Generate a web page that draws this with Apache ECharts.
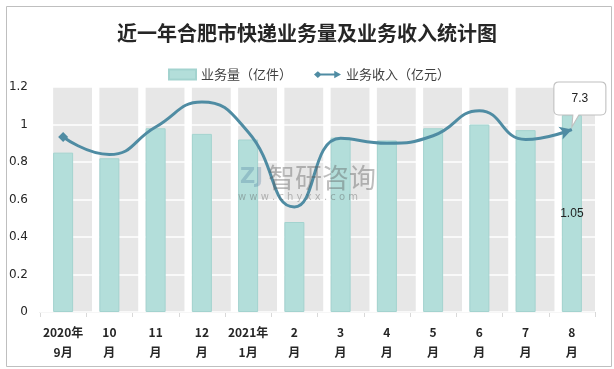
<!DOCTYPE html>
<html><head><meta charset="utf-8">
<script src="https://cdn.jsdelivr.net/npm/echarts@6/dist/echarts.min.js"></script>
<style>html,body{margin:0;padding:0;background:#fff}#c{width:614px;height:369px}</style>
</head><body><div id="c"></div>
<script>
var categories = ['2020年\n9月','10\n月','11\n月','12\n月','2021年\n1月','2\n月','3\n月','4\n月','5\n月','6\n月','7\n月','8\n月'];
var volume = [0.85, 0.82, 0.98, 0.95, 0.92, 0.48, 0.93, 0.915, 0.98, 1.0, 0.97, 1.05];
var revenue = [7.0, 6.3, 7.4, 8.4, 7.2, 4.2, 6.95, 6.75, 7.05, 8.05, 6.9, 7.3];
var yTicks = [0, 0.2, 0.4, 0.6, 0.8, 1.0, 1.2];
var backdrop = categories.map(function(){ return yTicks[yTicks.length-1]; });

var lineData = revenue.map(function(v, i){
  if (i === 0) return {value: v, symbol: 'diamond', symbolSize: 10};
  if (i === revenue.length - 1) return {value: v, symbol: 'arrow', symbolSize: [10, 12], symbolRotate: -72};
  return {value: v, symbol: 'none'};
});
var barData = volume.map(function(v, i){
  if (i === volume.length - 1) return {value: v, label: {show: true, position: 'inside', color: '#222', fontSize: 12, formatter: '{c}'}};
  return v;
});
var lastIdx = revenue.length - 1;
var chart = echarts.init(document.getElementById('c'));
chart.setOption({
  animation: false,
  backgroundColor: '#fff',
  title: {text: '近一年合肥市快递业务量及业务收入统计图', left: 'center', top: 18,
    textStyle: {fontFamily: 'Noto Sans CJK SC', fontWeight: 'bold', fontSize: 20, color: '#262626'}},
  legend: {top: 63, left: 163, itemWidth: 27, itemHeight: 10, itemGap: 22,
    textStyle: {fontFamily: 'Noto Sans CJK SC', fontSize: 13, color: '#404040'},
    data: [{name: '业务量（亿件）', icon: 'rect'},
           {name: '业务收入（亿元）', icon: 'path://M0,5 L4,1.5 L8,5 L4,8.5 Z M6,4 H23 V6 H6 Z M21,1 L28,5 L21,9 Z'}]},
  grid: {left: 40, right: 19, top: 87, bottom: 57},
  xAxis: {type: 'category', data: categories, boundaryGap: true,
    axisLine: {lineStyle: {color: '#d9d9d9'}},
    axisTick: {show: true, length: 5, lineStyle: {color: '#d9d9d9'}},
    axisLabel: {color: '#262626', fontWeight: 'bold', fontSize: 12, lineHeight: 20, margin: 10, interval: 0,
      fontFamily: 'Noto Sans CJK SC'}},
  yAxis: [
    {type: 'value', min: 0, max: 1.2, interval: 0.2, z: 1,
     axisLine: {show: false}, axisTick: {show: false},
     splitLine: {lineStyle: {color: '#ffffff', width: 1.5}},
     axisLabel: {color: '#262626', fontSize: 12, margin: 12, fontFamily: 'DejaVu Sans'}},
    {type: 'value', min: 0, max: 9, show: false, splitLine: {show: false}}
  ],
  graphic: [
    {type: 'rect', left: 4, top: 4, shape: {width: 605, height: 360}, style: {fill: 'none', stroke: '#bfbfbf', lineWidth: 1}, silent: true, z: 0},
    {type: 'text', left: 268, top: 164, z: 10, style: {text: '智研咨询', font: '27px "Noto Sans CJK SC"', fill: 'rgba(90,90,90,0.4)'}},
    {type: 'text', left: 238, top: 192, z: 10, style: {text: 'w w w . c h y x x . c o m', font: '10px "DejaVu Sans"', fill: 'rgba(90,90,90,0.4)'}},
    {type: 'text', left: 240, top: 167, z: 10, style: {text: 'ZJ', font: 'bold 21px "DejaVu Sans"', fill: 'rgba(60,110,150,0.28)'}}
  ],
  series: [
    {name: 'bg', type: 'bar', data: backdrop, barWidth: '84%', barGap: '-100%', z: 0, silent: true,
     itemStyle: {color: '#e7e7e7'}, legendHoverLink: false},
    {name: '业务量（亿件）', type: 'bar', data: barData, barWidth: 20, z: 2,
     itemStyle: {color: '#b3deda', borderColor: '#a3d3cf', borderWidth: 1}},
    {name: '业务收入（亿元）', type: 'line', yAxisIndex: 1, data: lineData, smooth: 0.5, z: 3,
     symbol: 'none', showSymbol: true,
     lineStyle: {color: '#4f8ca3', width: 3}, itemStyle: {color: '#4f8ca3'},
     markPoint: {
       symbol: 'path://M5,0 H47 Q52,0 52,5 V28 Q52,33 47,33 H25 L18,45 L19,33 H5 Q0,33 0,28 V5 Q0,0 5,0 Z',
       symbolSize: [52, 45], symbolKeepAspect: false, symbolOffset: [8, -25],
       itemStyle: {color: '#ffffff', borderColor: '#bfbfbf', borderWidth: 1},
       label: {show: true, position: 'inside', color: '#222', fontSize: 12, offset: [0, -6], formatter: function(p){ return p.value; }},
       data: [{coord: [lastIdx, revenue[lastIdx]], value: revenue[lastIdx]}]
     }}
  ]
});
</script></body></html>
